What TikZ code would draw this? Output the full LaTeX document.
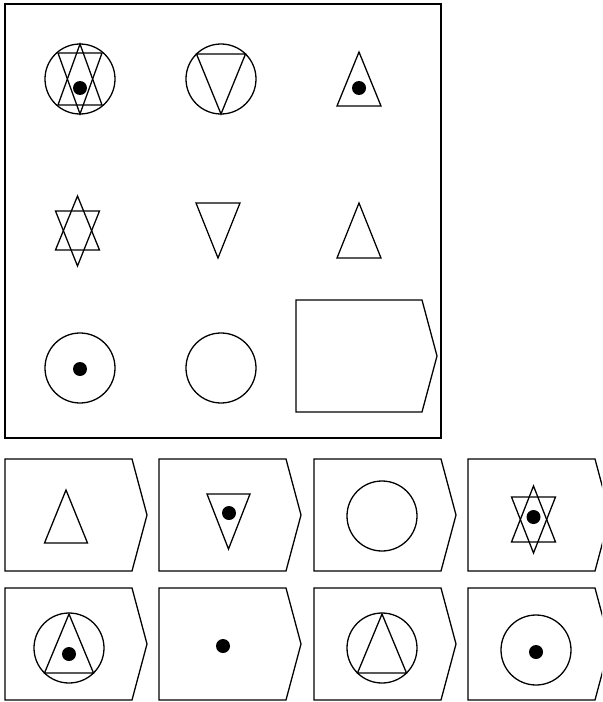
\documentclass[tikz,border=0pt]{standalone}
\usetikzlibrary{positioning}

\tikzset{
  fig/.style={line width=1.1pt, line join=miter},
  dot/.style={fill=black},
}

\begin{document}
\begin{tikzpicture}[x=0.03cm, y=-0.03cm]
            \clip (0,0) rectangle (602,702);
            \useasboundingbox (0,0) rectangle (602,702);

            % Ramecek matice
            \draw[fig] (5,4) rectangle (441,438);

            % Radek 1
            \draw[fig] (80,79) circle (35);
            \draw[fig] (80,44) -- (58,105) -- (102,105) -- cycle;
            \draw[fig] (58,53) -- (102,53) -- (80,114) -- cycle;
            \fill[dot] (80,88) circle (7);

            \draw[fig] (221,79) circle (35);
            \draw[fig] (196.5,54) -- (245.5,54) -- (221,114) -- cycle;

            \draw[fig] (359,52) -- (337,106) -- (381,106) -- cycle;
            \fill[dot] (359,88) circle (7);

            % Radek 2
            \draw[fig] (77.5,196) -- (55.5,250) -- (99.5,250) -- cycle;
            \draw[fig] (55.5,211) -- (99.5,211) -- (77.5,266) -- cycle;

            \draw[fig] (196,203) -- (240,203) -- (218,258) -- cycle;

            \draw[fig] (359,203) -- (337,258) -- (381,258) -- cycle;

            % Radek 3
            \draw[fig] (80,368) circle (35);
            \fill[dot] (80,369) circle (7);

            \draw[fig] (221,368) circle (35);

            % Prazdne pole
            \draw[fig] (296,300) -- (422,300) -- (437,356) -- (422,412) -- (296,412) -- cycle;

            % Moznosti
            \foreach \x in {5, 159, 314, 468} {
                \foreach \y in {459, 588} {
                    \draw[fig] (\x,\y) -- (\x+127,\y) -- (\x+142,\y+56) -- (\x+127,\y+112) -- (\x,\y+112) -- cycle;
                }
            }

            % Moznosti - radek A
            \draw[fig] (66,490) -- (44.5,543) -- (87.5,543) -- cycle;

            \draw[fig] (207,494) -- (250,494) -- (228.5,549) -- cycle;
            \fill[dot] (229,513) circle (7);

            \draw[fig] (382,516) circle (35);

            \draw[fig] (533.5,486) -- (511.5,542) -- (555.5,542) -- cycle;
            \draw[fig] (511.5,497) -- (555.5,497) -- (533.5,553) -- cycle;
            \fill[dot] (533.5,517) circle (7);

            % Moznosti - radek B
            \draw[fig] (69,648) circle (35);
            \draw[fig] (69,614) -- (44.5,673) -- (93.5,673) -- cycle;
            \fill[dot] (69,654) circle (7);

            \fill[dot] (223,646) circle (7);

            \draw[fig] (382,648) circle (35);
            \draw[fig] (382,614) -- (357.5,673) -- (406.5,673) -- cycle;

            \draw[fig] (536,650) circle (35);
            \fill[dot] (536,652) circle (7);
\end{tikzpicture}
\end{document}
